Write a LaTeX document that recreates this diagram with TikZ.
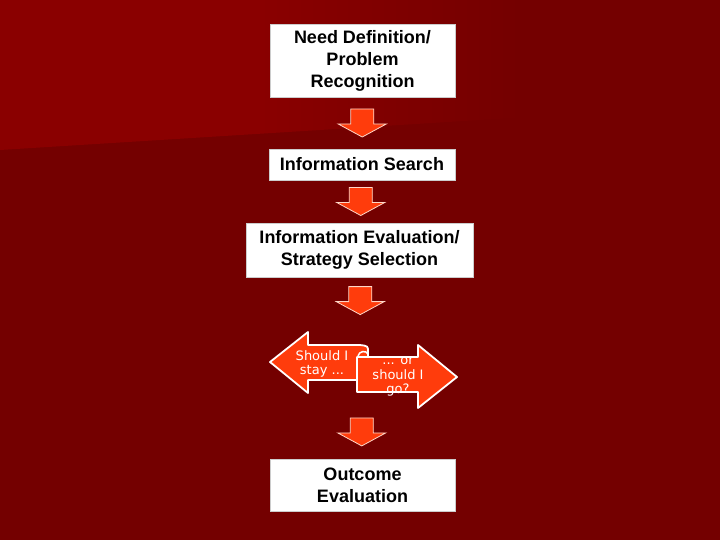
\documentclass[tikz,border=0pt]{standalone}
\usepackage{fontspec}
\setmainfont{Liberation Sans}
\newfontfamily\arrowfont{DejaVu Sans}
\usetikzlibrary{calc}

\definecolor{bgdark}{RGB}{116,0,0}
\definecolor{bglight}{RGB}{138,0,0}
\definecolor{arrowred}{RGB}{255,60,12}
\definecolor{arrowedge}{RGB}{255,215,200}

\begin{document}
\begin{tikzpicture}
	[x=1pt, y=-1pt,
	 StepBox/.style={draw=gray!40, fill=white, align=center, inner sep=0pt,
	   font=\fontsize{18}{22}\selectfont\bfseries},				%white boxes of the process
	 BlockArrow/.style={fill=arrowred, draw=arrowedge, line width=0.8pt, line join=miter},
	 StayGo/.style={BlockArrow, draw=white, line width=1.8pt, line join=round},
	 ArrowText/.style={text=white, align=center, inner sep=0pt,
	   font=\arrowfont\fontsize{13}{14.5}\selectfont}
	]

	%Background
	\fill[bgdark] (0,0) rectangle (720,540);
	\begin{scope}
	  \clip (0,0) -- (720,0) -- (720,105) -- (0,150) -- cycle;
	  \fill[bglight] (0,0) rectangle (260,160);
	  \shade[left color=bglight, right color=bgdark] (259,0) rectangle (520,160);
	\end{scope}
	\useasboundingbox (0,0) rectangle (720,540);

	%Boxes
	\node[StepBox, minimum width=185, minimum height=73] (need) at (362.5,60.5)
	  {Need Definition/\\Problem\\Recognition};
	\node[StepBox, minimum width=186, minimum height=31] (search) at (362,164.5)
	  {Information Search};
	\node[StepBox, minimum width=227, minimum height=54] (eval) at (359.5,250)
	  {Information Evaluation/\\Strategy Selection};
	\node[StepBox, minimum width=185, minimum height=52] (outcome) at (362.5,485)
	  {Outcome\\Evaluation};

	\coordinate (dtop) at (361,324);	%top of the stay/go arrows
	\coordinate (dbot) at (361,405);	%bottom of the stay/go arrows

	%Down arrows between the steps
	\foreach \a/\b in {need.south/search.north, search.south/eval.north,
	                   eval.south/dtop, dbot/outcome.north}
	{
	  \coordinate (c) at ($(\a)!0.5!(\b)$);
	  \draw[BlockArrow] ($(c)+(-11.5,-14)$) -- ++(23,0) -- ++(0,15) -- ++(12.5,0)
	    -- ($(c)+(0,14)$) -- ($(c)+(-24,1)$) -- ++(12.5,0) -- cycle;
	}

	%Stay or go
	\draw[StayGo] (360,345) -- (308,345) -- (308,332) -- (270,362) -- (308,393)
	  -- (308,380) -- (368,380) -- (368,352) .. controls (368,346) .. (360,345) -- cycle;
	\draw[white, line width=1.5pt] (368,354) .. controls (366,350) and (359,351) .. (358,356);
	\draw[StayGo] (357,357) -- (418,357) -- (418,345) -- (457,377) -- (418,408)
	  -- (418,392) -- (357,392) -- cycle;
	\node[ArrowText] (stay) at (322,364) {Should I\\stay ...};
	\node[ArrowText] (go) at (398,377) {... or\\should I\\go?};

\end{tikzpicture}
\end{document}
